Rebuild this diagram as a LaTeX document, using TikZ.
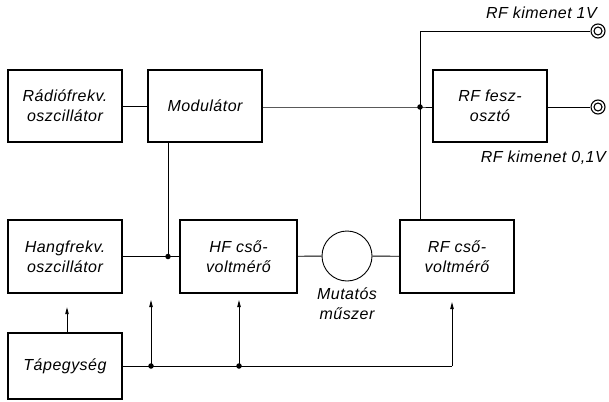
\documentclass[tikz,border=0pt]{standalone}
\usepackage{fontspec}
\setmainfont{Liberation Sans}[LetterSpace=3]
\usetikzlibrary{arrows.meta}

\begin{document}
\begin{tikzpicture}[x=1pt, y=-1pt,
    blokk/.style={draw, line width=1.7pt, minimum width=114pt, minimum height=72pt,
      align=center, inner sep=0pt, font=\itshape\fontsize{16}{20}\selectfont},
    felirat/.style={inner sep=0pt, font=\itshape\fontsize{16}{20}\selectfont},
    vonal/.style={line width=0.9pt},
    nyil/.style={line width=0.9pt, -{Triangle[length=7pt,width=3.4pt]}},
    pont/.style={circle, fill, inner sep=0pt, minimum size=5.5pt},
    kapocs/.style={circle, draw, line width=1.1pt, inner sep=0pt, minimum size=14pt}]

  \useasboundingbox (0,0) rectangle (609,401);

  % Blocks
  \node[blokk] (radio) at (65,106) {R\'adi\'ofrekv.\\oszcill\'ator};
  \node[blokk] (modul) at (205,106) {Modul\'ator};
  \node[blokk] (feszo) at (490,106) {RF fesz-\\oszt\'o};
  \node[blokk, minimum height=73pt] (hang) at (65,256.5) {Hangfrekv.\\oszcill\'ator};
  \node[blokk, minimum width=117pt, minimum height=73pt] (hfcso) at (238.5,256.5) {HF cs\H{o}-\\voltm\'er\H{o}};
  \node[blokk, minimum height=73pt] (rfcso) at (457,256.5) {RF cs\H{o}-\\voltm\'er\H{o}};
  \node[blokk, minimum height=66pt] (tap) at (65,366) {T\'apegys\'eg};

  % Meter
  \node[circle, draw, vonal, minimum size=50pt, inner sep=0pt] (muszer) at (347,256) {};
  \node[felirat, align=center] (muszerfel) at (347,304) {Mutat\'os\\m\H{u}szer};

  % Outputs
  \node[kapocs] (ki1) at (598,31) {};
  \node[kapocs] (ki2) at (598,107) {};
  \foreach \k in {ki1, ki2}
    \draw[line width=1.1pt] (\k) circle (4pt);
  \node[felirat, anchor=east] (ki1fel) at (597,13) {RF kimenet 1V};
  \node[felirat, anchor=east] (ki2fel) at (606,158) {RF kimenet 0,1V};

  % Junctions
  \coordinate (j1) at (420,107);
  \coordinate (j2) at (168,256.5);
  \coordinate (b0) at (tap.east);
  \coordinate (b1) at (151,366);
  \coordinate (b2) at (239,366);
  \coordinate (b3) at (452,366);

  % RF path
  \draw[vonal] (radio) -- (modul);
  \draw[vonal] (modul.east |- j1) -- (j1) -- (feszo.west |- j1);
  \draw[vonal] (feszo.east |- ki2) -- (ki2);
  \draw[vonal] (j1) -- (j1 |- ki1) -- (ki1);
  \draw[vonal] (j1) -- (j1 |- rfcso.north);

  % AF path
  \draw[vonal] (modul.south -| j2) -- (j2);
  \draw[vonal] (hang) -- (hfcso);
  \draw[vonal] (hfcso) -- (muszer);
  \draw[vonal] (muszer) -- (rfcso);

  % Supply
  \draw[nyil] (tap.north -| 67,0) -- ++(0,-25);
  \draw[vonal] (b0) -- (b3);
  \draw[nyil] (b3) -- (b3 |- 0,302);
  \foreach \b in {b1, b2}
    \draw[nyil] (\b) -- (\b |- 0,300);

  \foreach \p in {j1, j2, b1, b2}
    \node[pont] at (\p) {};

\end{tikzpicture}
\end{document}
